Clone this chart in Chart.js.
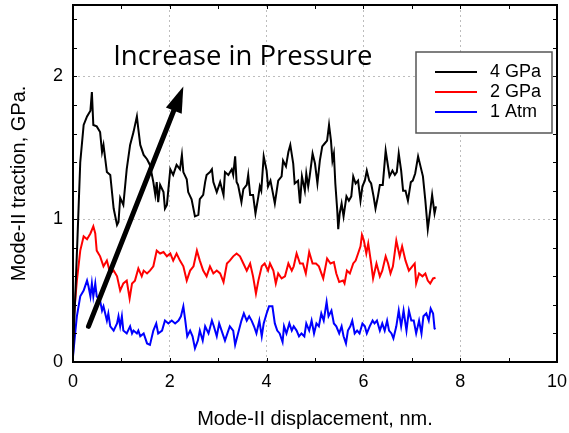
<!DOCTYPE html>
<html><head><meta charset="utf-8">
<script src="https://cdn.jsdelivr.net/npm/chart.js@4/dist/chart.umd.min.js"></script>
<style>html,body{margin:0;padding:0;background:#fff}#wrap{width:569px;height:433px}</style>
</head><body><div id="wrap"><canvas id="c" width="569" height="433"></canvas></div>
<script>
// ---- data ----
const seriesLabels = ['4 GPa', '2 GPa', '1 Atm'];
const seriesColors = ['#000000', '#ff0000', '#0000ff'];

const series4GPa = [[0,0.05],[0.095,0.89],[0.15,1.40],[0.22,1.66],[0.29,1.72],[0.36,1.76],[0.39,1.89],[0.42,1.66],[0.49,1.65],[0.56,1.61],[0.60,1.47],[0.63,1.52],[0.70,1.33],[0.77,1.31],[0.84,1.075],[0.91,0.96],[0.94,0.98],[0.975,1.15],[1.04,1.10],[1.11,1.35],[1.18,1.52],[1.25,1.61],[1.32,1.72],[1.35,1.63],[1.39,1.52],[1.46,1.45],[1.53,1.42],[1.59,1.38],[1.66,1.26],[1.70,1.17],[1.73,1.26],[1.76,1.12],[1.80,1.24],[1.87,1.19],[1.90,1.075],[1.94,1.10],[2.01,1.35],[2.07,1.31],[2.14,1.38],[2.21,1.35],[2.25,1.45],[2.28,1.33],[2.35,1.28],[2.38,1.19],[2.45,1.14],[2.52,1.02],[2.59,1.03],[2.62,1.14],[2.69,1.17],[2.73,1.26],[2.76,1.31],[2.83,1.33],[2.87,1.35],[2.90,1.26],[2.97,1.19],[3.04,1.26],[3.11,1.17],[3.14,1.33],[3.21,1.31],[3.28,1.35],[3.31,1.31],[3.35,1.44],[3.38,1.26],[3.41,1.24],[3.48,1.12],[3.52,1.21],[3.59,1.24],[3.62,1.31],[3.66,1.17],[3.72,1.17],[3.77,1.04],[3.83,1.16],[3.86,1.23],[3.89,1.20],[3.94,1.44],[4.00,1.34],[4.03,1.23],[4.08,1.27],[4.12,1.20],[4.17,1.11],[4.24,1.27],[4.31,1.30],[4.34,1.41],[4.40,1.37],[4.45,1.47],[4.49,1.52],[4.55,1.39],[4.58,1.25],[4.65,1.27],[4.69,1.11],[4.73,1.30],[4.79,1.20],[4.82,1.32],[4.86,1.23],[4.89,1.30],[4.95,1.46],[5.00,1.39],[5.05,1.25],[5.10,1.41],[5.15,1.51],[5.20,1.53],[5.25,1.55],[5.29,1.66],[5.33,1.55],[5.36,1.41],[5.39,1.46],[5.42,1.25],[5.46,1.06],[5.48,0.93],[5.51,1.04],[5.55,1.11],[5.59,1.02],[5.65,1.16],[5.70,1.13],[5.75,1.16],[5.79,1.30],[5.84,1.25],[5.89,1.27],[5.94,1.13],[5.98,1.23],[6.03,1.27],[6.07,1.34],[6.12,1.27],[6.16,1.25],[6.21,1.16],[6.25,1.075],[6.30,1.16],[6.34,1.24],[6.40,1.24],[6.46,1.48],[6.50,1.39],[6.54,1.30],[6.60,1.34],[6.65,1.31],[6.69,1.33],[6.73,1.46],[6.78,1.34],[6.82,1.20],[6.87,1.20],[6.92,1.13],[6.98,1.26],[7.02,1.27],[7.07,1.32],[7.13,1.44],[7.18,1.37],[7.23,1.30],[7.28,1.13],[7.33,0.93],[7.38,1.06],[7.42,1.17],[7.47,1.04],[7.50,1.09]];

const series2GPa = [[0,0.20],[0.01,0.29],[0.08,0.57],[0.15,0.78],[0.22,0.88],[0.29,0.86],[0.36,0.90],[0.42,0.95],[0.46,0.90],[0.49,0.78],[0.56,0.74],[0.63,0.67],[0.70,0.71],[0.77,0.62],[0.84,0.64],[0.91,0.60],[0.975,0.50],[1.04,0.55],[1.11,0.57],[1.17,0.445],[1.22,0.55],[1.28,0.57],[1.35,0.655],[1.42,0.60],[1.46,0.64],[1.53,0.62],[1.59,0.64],[1.66,0.67],[1.73,0.78],[1.80,0.76],[1.87,0.77],[1.94,0.74],[2.01,0.76],[2.07,0.71],[2.14,0.76],[2.21,0.71],[2.28,0.67],[2.35,0.57],[2.42,0.64],[2.49,0.67],[2.56,0.78],[2.62,0.71],[2.69,0.64],[2.76,0.60],[2.83,0.67],[2.90,0.62],[2.97,0.64],[3.04,0.62],[3.11,0.56],[3.18,0.69],[3.24,0.71],[3.31,0.74],[3.38,0.76],[3.45,0.74],[3.52,0.69],[3.59,0.64],[3.66,0.69],[3.72,0.60],[3.78,0.48],[3.83,0.57],[3.90,0.67],[3.96,0.69],[4.03,0.64],[4.07,0.69],[4.14,0.64],[4.19,0.55],[4.24,0.62],[4.31,0.585],[4.38,0.60],[4.45,0.69],[4.52,0.64],[4.56,0.67],[4.62,0.76],[4.69,0.69],[4.75,0.69],[4.81,0.62],[4.88,0.77],[4.95,0.69],[5.02,0.69],[5.08,0.67],[5.17,0.585],[5.25,0.725],[5.32,0.69],[5.39,0.70],[5.44,0.62],[5.50,0.56],[5.58,0.57],[5.61,0.55],[5.66,0.64],[5.72,0.62],[5.79,0.69],[5.84,0.71],[5.89,0.76],[5.94,0.81],[5.97,0.89],[6.01,0.85],[6.06,0.76],[6.10,0.83],[6.16,0.69],[6.20,0.585],[6.27,0.69],[6.34,0.60],[6.39,0.64],[6.46,0.74],[6.51,0.69],[6.56,0.62],[6.61,0.67],[6.68,0.85],[6.75,0.74],[6.80,0.81],[6.87,0.71],[6.94,0.64],[7.01,0.67],[7.06,0.69],[7.09,0.55],[7.15,0.62],[7.22,0.60],[7.28,0.62],[7.33,0.57],[7.38,0.55],[7.44,0.585],[7.49,0.59]];

const series1Atm = [[0,0.04],[0.05,0.22],[0.08,0.32],[0.15,0.46],[0.22,0.50],[0.29,0.57],[0.32,0.53],[0.36,0.46],[0.39,0.55],[0.42,0.46],[0.46,0.55],[0.49,0.46],[0.56,0.43],[0.60,0.36],[0.63,0.39],[0.70,0.29],[0.73,0.34],[0.77,0.25],[0.84,0.22],[0.91,0.27],[0.94,0.32],[0.975,0.25],[1.01,0.32],[1.04,0.22],[1.11,0.20],[1.18,0.25],[1.22,0.20],[1.25,0.22],[1.32,0.20],[1.35,0.22],[1.39,0.18],[1.46,0.20],[1.53,0.13],[1.59,0.12],[1.66,0.22],[1.72,0.27],[1.76,0.20],[1.84,0.22],[1.90,0.29],[1.97,0.27],[2.04,0.29],[2.11,0.27],[2.18,0.29],[2.23,0.32],[2.28,0.39],[2.32,0.29],[2.36,0.18],[2.42,0.22],[2.47,0.18],[2.52,0.095],[2.58,0.15],[2.62,0.22],[2.68,0.15],[2.73,0.25],[2.80,0.20],[2.87,0.29],[2.91,0.25],[2.97,0.18],[3.02,0.27],[3.07,0.22],[3.14,0.15],[3.19,0.20],[3.24,0.25],[3.31,0.22],[3.35,0.12],[3.41,0.20],[3.48,0.29],[3.53,0.34],[3.59,0.29],[3.64,0.32],[3.69,0.29],[3.74,0.25],[3.79,0.20],[3.85,0.29],[3.90,0.18],[3.94,0.27],[4.00,0.34],[4.05,0.39],[4.12,0.39],[4.17,0.27],[4.22,0.22],[4.27,0.20],[4.33,0.14],[4.36,0.25],[4.41,0.20],[4.47,0.27],[4.52,0.22],[4.56,0.25],[4.62,0.22],[4.67,0.18],[4.72,0.20],[4.78,0.18],[4.82,0.27],[4.88,0.22],[4.93,0.29],[4.98,0.20],[5.03,0.27],[5.08,0.25],[5.13,0.34],[5.18,0.29],[5.24,0.42],[5.28,0.32],[5.34,0.36],[5.39,0.27],[5.44,0.25],[5.50,0.20],[5.55,0.25],[5.59,0.18],[5.64,0.13],[5.68,0.22],[5.73,0.25],[5.77,0.29],[5.82,0.20],[5.87,0.22],[5.92,0.20],[5.98,0.27],[6.03,0.25],[6.07,0.20],[6.13,0.25],[6.19,0.29],[6.23,0.27],[6.28,0.29],[6.34,0.22],[6.39,0.27],[6.44,0.22],[6.49,0.29],[6.53,0.22],[6.58,0.20],[6.62,0.165],[6.68,0.25],[6.73,0.36],[6.78,0.25],[6.83,0.36],[6.89,0.22],[6.94,0.36],[6.99,0.29],[7.04,0.29],[7.09,0.20],[7.15,0.29],[7.20,0.20],[7.24,0.32],[7.30,0.34],[7.35,0.29],[7.39,0.375],[7.44,0.34],[7.47,0.235],[7.49,0.23]];

const xTickValues = [0, 2, 4, 6, 8, 10];
const yTickValues = [0, 1, 2];
const xMinorTicks = [1, 2, 3, 4, 5, 6, 7, 8, 9];
const yMinorTicks = [0.2, 0.4, 0.6, 0.8, 1.0, 1.2, 1.4, 1.6, 1.8, 2.0, 2.2, 2.4];
const xAxisTitle = 'Mode-II displacement, nm.';
const yAxisTitle = 'Mode-II traction, GPa.';
const annotationText = 'Increase in Pressure';
const arrowFrom = [0.32, 0.25];
const arrowTo = [2.28, 1.93];
const annotationAt = [0.83, 2.077];

// ---- chart ----
const allSeries = [series4GPa, series2GPa, series1Atm];
const datasets = allSeries.map((s, i) => ({
  label: seriesLabels[i],
  data: s.map(p => ({x: p[0], y: p[1]})),
  borderColor: seriesColors[i],
  backgroundColor: seriesColors[i],
  borderWidth: 2,
  pointRadius: 0,
  tension: 0,
  fill: false
}));

function noPad(s) { s.paddingLeft = 0; s.paddingRight = 0; s.paddingTop = 0; s.paddingBottom = 0; }

const overlay = {
  id: 'overlay',
  afterDatasetsDraw(chart) {
    const {ctx, chartArea: a, scales: {x, y}} = chart;
    ctx.save();
    // inward tick marks on all four sides
    ctx.strokeStyle = '#000';
    ctx.lineWidth = 1;
    ctx.beginPath();
    xMinorTicks.forEach(v => {
      const px = Math.round(x.getPixelForValue(v)) + 0.5;
      ctx.moveTo(px, a.bottom); ctx.lineTo(px, a.bottom - 4);
      ctx.moveTo(px, a.top); ctx.lineTo(px, a.top + 4);
    });
    yMinorTicks.forEach(v => {
      const py = Math.round(y.getPixelForValue(v)) + 0.5;
      ctx.moveTo(a.left, py); ctx.lineTo(a.left + 4, py);
      ctx.moveTo(a.right, py); ctx.lineTo(a.right - 4, py);
    });
    ctx.stroke();
    // plot frame
    ctx.lineWidth = 2;
    ctx.strokeRect(a.left, a.top, a.right - a.left, a.bottom - a.top);

    // arrow
    const x0 = x.getPixelForValue(arrowFrom[0]), y0 = y.getPixelForValue(arrowFrom[1]);
    const x1 = x.getPixelForValue(arrowTo[0]), y1 = y.getPixelForValue(arrowTo[1]);
    const ang = Math.atan2(y1 - y0, x1 - x0);
    const hl = 26, hw = 8.5;
    const c = Math.cos(ang), s = Math.sin(ang);
    const bx = x1 - hl * c, by = y1 - hl * s;
    ctx.strokeStyle = '#000';
    ctx.lineWidth = 5;
    ctx.lineCap = 'round';
    ctx.beginPath();
    ctx.moveTo(x0, y0);
    ctx.lineTo(bx + 3 * c, by + 3 * s);
    ctx.stroke();
    ctx.fillStyle = '#000';
    ctx.beginPath();
    ctx.moveTo(x1, y1);
    ctx.lineTo(bx - hw * s, by + hw * c);
    ctx.lineTo(bx + hw * s, by - hw * c);
    ctx.closePath();
    ctx.fill();

    // annotation text
    ctx.font = '27.5px "Open Sans"';
    ctx.textAlign = 'left';
    ctx.textBaseline = 'alphabetic';
    ctx.fillText(annotationText, x.getPixelForValue(annotationAt[0]), y.getPixelForValue(annotationAt[1]));

    // legend box
    const bw = 136, bh = 81;
    const bl = a.right - 5 - bw, bt = a.top + 47;
    ctx.fillStyle = '#fff';
    ctx.fillRect(bl, bt, bw, bh);
    ctx.strokeStyle = '#555';
    ctx.lineWidth = 1.5;
    ctx.strokeRect(bl, bt, bw, bh);
    ctx.font = '18px "Liberation Sans", Arial, sans-serif';
    ctx.lineCap = 'butt';
    chart.data.datasets.forEach((d, i) => {
      const ly = bt + 20 + i * 20;
      ctx.strokeStyle = d.borderColor;
      ctx.lineWidth = 2;
      ctx.beginPath();
      ctx.moveTo(bl + 19, ly); ctx.lineTo(bl + 61, ly);
      ctx.stroke();
      ctx.fillStyle = '#000';
      ctx.fillText(d.label, bl + 74, ly + 4.5);
    });
    ctx.restore();
  }
};

new Chart(document.getElementById('c'), {
  type: 'line',
  data: {datasets},
  plugins: [overlay],
  options: {
    responsive: false,
    devicePixelRatio: 1,
    animation: false,
    layout: {padding: {left: 0, right: 12, top: 5, bottom: 0}},
    plugins: {legend: {display: false}, tooltip: {enabled: false}},
    scales: {
      x: {
        type: 'linear', min: 0, max: 10,
        afterFit(s) { s.height = 71; noPad(s); },
        afterBuildTicks(s) { s.ticks = xTickValues.map(v => ({value: v})); },
        ticks: {color: '#000', padding: 9, font: {family: '"Liberation Sans", Arial, sans-serif', size: 18}, maxRotation: 0},
        grid: {color: '#bdbdbd', lineWidth: 1, drawTicks: false},
        border: {display: false, dash: [2, 3]},
        title: {display: true, text: xAxisTitle, color: '#000', padding: {top: 0, bottom: 2}, font: {family: '"Liberation Sans", Arial, sans-serif', size: 20}}
      },
      y: {
        type: 'linear', min: 0, max: 2.5,
        afterFit(s) { s.width = 73; noPad(s); },
        afterBuildTicks(s) { s.ticks = yTickValues.map(v => ({value: v})); },
        ticks: {color: '#000', padding: 10, font: {family: '"Liberation Sans", Arial, sans-serif', size: 18}},
        grid: {color: '#bdbdbd', lineWidth: 1, drawTicks: false},
        border: {display: false, dash: [2, 3]},
        title: {display: true, text: yAxisTitle, color: '#000', padding: {top: 7, bottom: 0}, font: {family: '"Liberation Sans", Arial, sans-serif', size: 20}}
      }
    }
  }
});
</script>
</body></html>
